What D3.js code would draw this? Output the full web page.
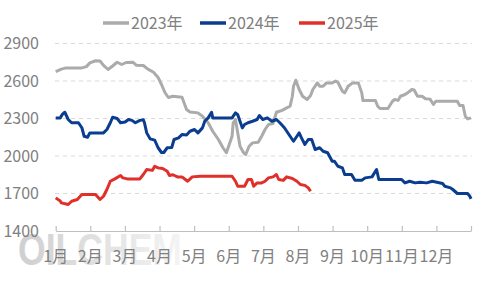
<!DOCTYPE html>
<meta charset="utf-8">
<style>
body { margin: 0; background: #fff; }
svg text { font-family: "Noto Sans CJK SC", "Noto Sans", sans-serif; fill: #808080; }
.grid line { stroke: #d9d9d9; stroke-dasharray: 4,4; }
.series { fill: none; stroke-width: 3; stroke-linejoin: round; }
</style>
<svg width="480" height="288"></svg>
<script src="https://d3js.org/d3.v7.min.js"></script>
<script>

// day of year, price
var s2023 = [[0,2675],[5,2695],[9,2705],[23,2705],[27,2715],[30,2745],[35,2762],[39,2760],[42,2725],[46,2692],[50,2720],[54,2750],[58,2732],[62,2748],[68,2750],[71,2725],[77,2724],[81,2695],[86,2670],[90,2628],[93,2572],[96,2508],[99,2468],[103,2478],[111,2470],[115,2372],[118,2352],[125,2345],[129,2318],[134,2266],[138,2198],[143,2132],[147,2066],[150,2026],[152,2078],[155,2158],[156,2266],[158,2292],[159,2238],[162,2078],[165,2028],[167,2012],[170,2078],[173,2105],[178,2110],[181,2158],[184,2212],[187,2252],[191,2260],[194,2350],[199,2365],[203,2385],[206,2398],[208,2478],[209,2558],[211,2606],[214,2532],[217,2478],[221,2452],[224,2484],[226,2532],[230,2585],[232,2558],[235,2558],[238,2585],[243,2585],[246,2600],[248,2590],[252,2518],[254,2505],[257,2558],[261,2585],[266,2585],[269,2505],[270,2444],[281,2444],[283,2398],[285,2380],[292,2380],[296,2438],[298,2452],[301,2445],[303,2478],[307,2492],[310,2510],[313,2532],[315,2528],[318,2478],[322,2478],[325,2458],[329,2455],[332,2412],[334,2438],[353,2438],[355,2404],[358,2404],[360,2318],[362,2297],[365,2305]];
var s2024 = [[0,2305],[4,2305],[6,2335],[8,2350],[11,2292],[14,2266],[20,2266],[23,2226],[25,2158],[28,2150],[30,2185],[42,2185],[45,2212],[48,2266],[50,2310],[54,2300],[57,2266],[61,2272],[64,2292],[67,2285],[70,2266],[74,2285],[77,2290],[78,2266],[80,2185],[83,2137],[87,2127],[90,2066],[93,2028],[95,2028],[98,2066],[102,2068],[104,2132],[108,2145],[111,2172],[115,2168],[118,2198],[122,2212],[125,2185],[129,2225],[131,2278],[134,2305],[137,2350],[138,2305],[155,2305],[158,2345],[160,2330],[164,2225],[166,2252],[169,2266],[173,2278],[177,2292],[179,2324],[182,2292],[186,2305],[190,2278],[194,2292],[197,2266],[201,2226],[206,2158],[209,2118],[212,2158],[214,2185],[216,2145],[219,2092],[222,2132],[225,2132],[228,2052],[232,2066],[235,2038],[239,2026],[243,1958],[245,1958],[248,1918],[252,1905],[254,1852],[260,1852],[263,1806],[269,1806],[272,1825],[278,1833],[281,1878],[282,1892],[284,1812],[304,1812],[307,1785],[311,1798],[316,1785],[320,1790],[326,1785],[331,1798],[335,1790],[340,1780],[342,1758],[347,1745],[349,1732],[353,1700],[362,1700],[364,1678],[365,1657]];
var s2025 = [[0,1665],[4,1640],[5,1625],[11,1612],[14,1638],[19,1652],[23,1692],[35,1692],[39,1652],[42,1678],[45,1732],[48,1798],[52,1817],[57,1844],[59,1825],[63,1817],[74,1817],[77,1852],[80,1892],[85,1885],[87,1918],[90,1905],[94,1900],[98,1878],[100,1844],[103,1850],[107,1833],[111,1833],[114,1812],[116,1798],[120,1833],[127,1838],[155,1838],[158,1798],[160,1758],[166,1758],[169,1812],[172,1812],[174,1758],[177,1785],[181,1785],[184,1798],[187,1825],[191,1833],[194,1852],[196,1812],[200,1805],[203,1833],[208,1820],[212,1798],[215,1772],[219,1765],[222,1745],[224,1718]];

var seriesNames = ["2023年", "2024年", "2025年"];
var seriesColors = ["#ababab", "#0a3d8f", "#e0302a"];
var monthLabels = ["1月","2月","3月","4月","5月","6月","7月","8月","9月","10月","11月","12月"];
var yTicks = [1400, 1700, 2000, 2300, 2600, 2900];

var svg = d3.select("svg");
var x = d3.scaleLinear().domain([0, 365]).range([55.7, 471]);
var y = d3.scaleLinear().domain([1400, 2900]).range([231, 43.5]);

// watermark
var grad = svg.append("defs").append("linearGradient").attr("id", "wm");
grad.append("stop").attr("offset", "0%").attr("stop-color", "#cfcfcf");
grad.append("stop").attr("offset", "100%").attr("stop-color", "#f4f4f4");
svg.append("text")
    .attr("x", 18).attr("y", 265)
    .attr("textLength", 164).attr("lengthAdjust", "spacingAndGlyphs")
    .style("font-family", "'Liberation Sans', Arial, sans-serif")
    .style("font-weight", "bold").style("font-size", "44px")
    .style("fill", "url(#wm)")
    .text("OILCHEM");

// grid
svg.append("g").attr("class", "grid")
  .selectAll("line").data(yTicks.slice(1)).enter().append("line")
    .attr("x1", 55).attr("x2", 472)
    .attr("y1", d => y(d)).attr("y2", d => y(d));

svg.append("g").selectAll("text").data(yTicks).enter().append("text")
    .attr("x", 39).attr("y", d => y(d)).attr("dy", "0.35em")
    .attr("text-anchor", "end").style("font-size", "16px")
    .text(d => d);

// x axis
var monthPos = d3.range(13).map(i => i * 365 / 12);
var xAxis = d3.axisBottom(x).tickValues(monthPos).tickSizeInner(-5).tickSizeOuter(0).tickFormat("");
var gx = svg.append("g").attr("transform", "translate(0," + y(1400) + ")").call(xAxis);
gx.selectAll("path, line").attr("stroke", "#bfbfbf").attr("stroke-width", 1.2);

svg.append("g").selectAll("text").data(monthLabels).enter().append("text")
    .attr("x", (d, i) => x(monthPos[i])).attr("y", 262)
    .attr("text-anchor", "middle").style("font-size", "16px")
    .text(d => d);

// series
var line = d3.line().x(d => x(d[0])).y(d => y(d[1]));
[s2023, s2024, s2025].forEach(function(s, i) {
    svg.append("path").attr("class", "series")
        .attr("stroke", seriesColors[i])
        .attr("d", line(s));
});

// legend
var legX = [103, 200, 299];
var leg = svg.append("g").selectAll("g").data(seriesNames).enter().append("g")
    .attr("transform", (d, i) => "translate(" + legX[i] + ",23)");
leg.append("line").attr("x1", 0).attr("x2", 26)
    .attr("stroke", (d, i) => seriesColors[i]).attr("stroke-width", 3.5);
leg.append("text").attr("x", 28).attr("dy", "0.35em")
    .style("font-size", "16px").text(d => d);

</script>
